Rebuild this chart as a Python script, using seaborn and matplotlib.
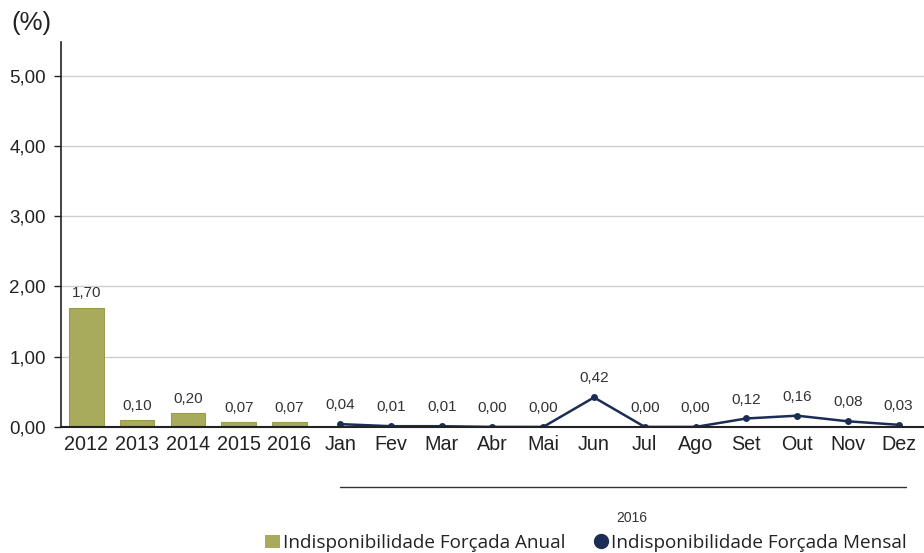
import numpy as np
import pandas as pd
import matplotlib.pyplot as plt
import seaborn as sns
from matplotlib.patches import Patch
from matplotlib.lines import Line2D

# Data
years = ["2012", "2013", "2014", "2015", "2016"]
annual = [1.70, 0.10, 0.20, 0.07, 0.07]
months = ["Jan", "Fev", "Mar", "Abr", "Mai", "Jun", "Jul", "Ago", "Set", "Out", "Nov", "Dez"]
monthly = [0.04, 0.01, 0.01, 0.00, 0.00, 0.42, 0.00, 0.00, 0.12, 0.16, 0.08, 0.03]
yticks = [0, 1, 2, 3, 4, 5]
categories = years + months

bar_color = "#a8aa5c"
line_color = "#1c2d55"
fmt = lambda v: f"{v:.2f}".replace(".", ",")

sns.set_style("white")
plt.rcParams["font.family"] = ["Liberation Sans", "DejaVu Sans"]

fig = plt.figure(figsize=(9.24, 5.53), dpi=100)
ax = fig.add_axes([0.066, 0.228, 0.934, 0.696])

# annual bars
df_a = pd.DataFrame({"cat": years, "val": annual})
sns.barplot(data=df_a, x="cat", y="val", order=categories, color=bar_color,
            width=0.68, saturation=1, edgecolor="#9a9c4c", linewidth=0.8, ax=ax)

# monthly line
df_m = pd.DataFrame({"pos": np.arange(len(years), len(categories)), "val": monthly})
sns.lineplot(data=df_m, x="pos", y="val", color=line_color, linewidth=1.8,
             marker="o", markersize=5, markeredgewidth=0, ax=ax)

# value labels
for i, v in enumerate(annual):
    ax.text(i, v + 0.1, fmt(v), ha="center", va="bottom", fontsize=11, color="#333333")
for x, v in zip(df_m["pos"], monthly):
    ax.text(x, v + 0.17, fmt(v), ha="center", va="bottom", fontsize=11, color="#333333")

# axes styling
ax.set_xlim(-0.5, 16.26)
ax.set_ylim(0, 5.48)
ax.set_yticks(yticks)
ax.set_yticklabels([fmt(t) for t in yticks], fontsize=13.5, color="#222222")
ax.set_xticks(range(len(categories)))
ax.set_xticklabels(categories, fontsize=14.2, color="#222222")
ax.tick_params(axis="x", length=0, pad=6)
ax.set_xticks(np.arange(len(categories)) + 0.5, minor=True)
ax.tick_params(axis="x", which="minor", direction="inout", length=9, width=1, color="#222222")
ax.tick_params(axis="y", direction="out", length=5, width=1, color="#222222", left=True, pad=6)
ax.set_xlabel("")
ax.set_ylabel("")
for y in yticks[1:]:
    ax.axhline(y, color="#cfcfcf", linewidth=1, zorder=0)
for s in ["top", "right"]:
    ax.spines[s].set_visible(False)
ax.spines["left"].set_color("#222222")
ax.spines["bottom"].set_color("#222222")
ax.spines["left"].set_linewidth(1.2)
ax.spines["bottom"].set_linewidth(1.5)

fig.text(0.012, 0.958, "(%)", fontsize=18.5, color="#222222", va="center")

# 2016 bracket below months
fig.add_artist(Line2D([0.368, 0.98], [0.119, 0.119], color="#333333", linewidth=1))
fig.text(0.684, 0.063, "2016", fontsize=10, color="#333333", ha="center", va="center")

# legend
handles = [Patch(facecolor=bar_color, edgecolor="none"),
           Line2D([], [], marker="o", color=line_color, linestyle="none", markersize=10)]
fig.legend(handles, ["Indisponibilidade Forçada Anual", "Indisponibilidade Forçada Mensal"],
           loc="center", bbox_to_anchor=(0.634, 0.018), ncol=2, frameon=False,
           prop={"family": "Open Sans", "size": 13.6}, handlelength=0.8, handletextpad=0.15,
           columnspacing=1.5, labelcolor="#222222", borderpad=0)

fig.savefig("out.png", dpi=100)
